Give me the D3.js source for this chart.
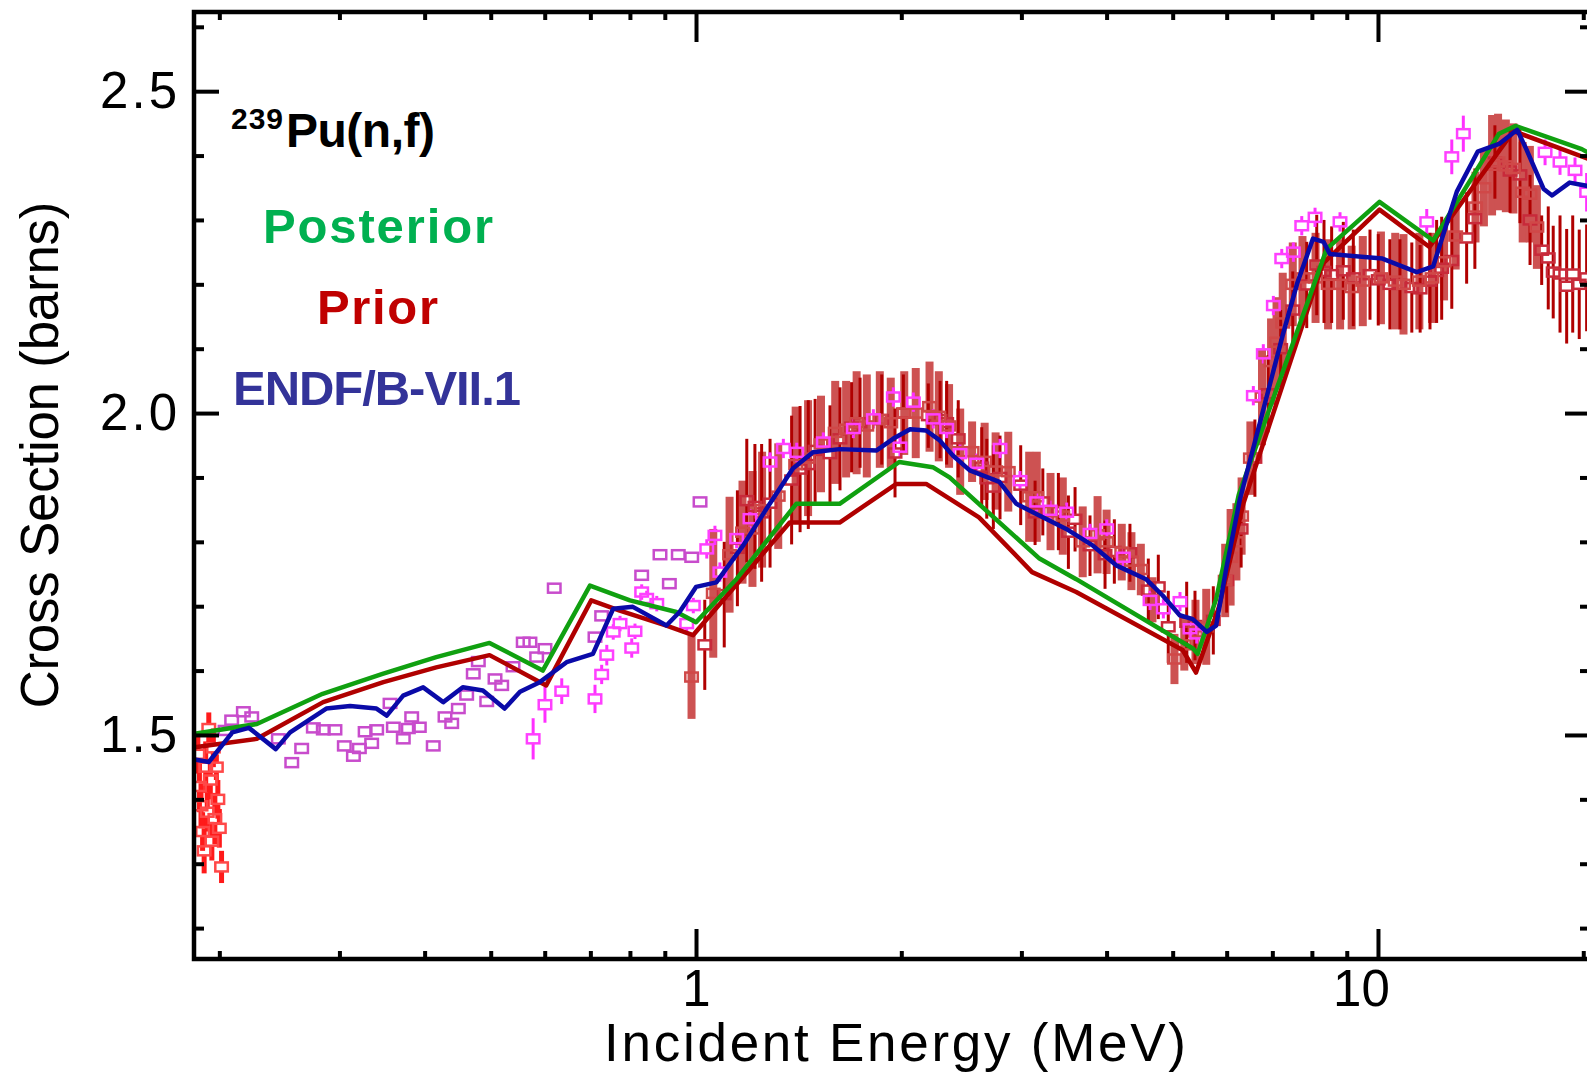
<!DOCTYPE html>
<html lang="en">
<head>
<meta charset="UTF-8">
<title>239Pu(n,f) cross section</title>
<script src="https://d3js.org/d3.v7.min.js"></script>
<style>
    body {
        margin: 0;
        background: #fff;
    }
    svg {
        display: block;
        font-family: "Liberation Sans", Arial, sans-serif;
    }
</style>
</head>
<body>
<div id="chart"></div>
<script>
// ---- evaluated curves: [energy MeV, cross section barns]
const posterior = [
    [0.184, 1.502], [0.227, 1.517], [0.2835, 1.564], [0.347, 1.595], [0.416, 1.621],
    [0.498, 1.643], [0.596, 1.600], [0.699, 1.732], [0.80, 1.709], [0.936, 1.691],
    [1.0, 1.675], [1.146, 1.742], [1.403, 1.859], [1.624, 1.859], [1.986, 1.924],
    [2.224, 1.916], [2.354, 1.90], [3.189, 1.774], [3.61, 1.742], [5.36, 1.634],
    [5.44, 1.626], [5.79, 1.711], [6.25, 1.873], [8.41, 2.255], [10.05, 2.328],
    [12.05, 2.268], [15.05, 2.434], [15.9, 2.446], [19.9, 2.41], [20.46, 2.403]
];

const prior = [
    [0.184, 1.481], [0.227, 1.494], [0.284, 1.551], [0.348, 1.582], [0.416, 1.605],
    [0.498, 1.624], [0.603, 1.577], [0.702, 1.709], [0.773, 1.693], [0.905, 1.670],
    [0.99, 1.655], [1.372, 1.830], [1.624, 1.830], [1.967, 1.890], [2.175, 1.890],
    [2.60, 1.838], [3.11, 1.753], [3.61, 1.722], [5.17, 1.632], [5.41, 1.597],
    [5.85, 1.70], [6.35, 1.86], [8.3, 2.232], [10.05, 2.316], [11.9, 2.258],
    [15.8, 2.438], [20.46, 2.394]
];

const endf = [
    [0.184, 1.462], [0.193, 1.458], [0.209, 1.504], [0.221, 1.511], [0.242, 1.478],
    [0.254, 1.504], [0.287, 1.541], [0.311, 1.545], [0.340, 1.541], [0.352, 1.530],
    [0.372, 1.561], [0.398, 1.574], [0.426, 1.551], [0.455, 1.574], [0.487, 1.569],
    [0.524, 1.541], [0.552, 1.567], [0.590, 1.582], [0.646, 1.613], [0.706, 1.626],
    [0.756, 1.696], [0.808, 1.699], [0.905, 1.670], [0.946, 1.691], [1.0, 1.73],
    [1.071, 1.737], [1.172, 1.794], [1.268, 1.851], [1.387, 1.914], [1.484, 1.939],
    [1.624, 1.944], [1.84, 1.942], [1.945, 1.96], [2.06, 1.975], [2.175, 1.973],
    [2.275, 1.958], [2.38, 1.934], [2.52, 1.911], [2.785, 1.893], [2.95, 1.859],
    [3.225, 1.838], [3.49, 1.82], [3.82, 1.794], [4.14, 1.763], [4.57, 1.742],
    [4.83, 1.717], [5.12, 1.686], [5.35, 1.680], [5.61, 1.66], [5.79, 1.670],
    [5.99, 1.758], [6.27, 1.865], [7.25, 2.121], [7.62, 2.203], [8.03, 2.271],
    [8.32, 2.266], [8.5, 2.247], [10.15, 2.24], [11.4, 2.219], [12.05, 2.228],
    [13.05, 2.344], [14.0, 2.406], [15.05, 2.418], [16.0, 2.44], [16.5, 2.41],
    [17.5, 2.348], [18.0, 2.338], [19.1, 2.358], [20.46, 2.352]
];

// ---- experimental data: [energy MeV, cross section barns, uncertainty]
const expLow = [
    [0.186, 1.47, 0.03], [0.187, 1.42, 0.04], [0.188, 1.39, 0.035], [0.189, 1.35, 0.03],
    [0.190, 1.32, 0.035], [0.191, 1.45, 0.04], [0.192, 1.38, 0.03], [0.193, 1.51, 0.025],
    [0.194, 1.43, 0.03], [0.195, 1.335, 0.03], [0.196, 1.48, 0.03], [0.197, 1.37, 0.04],
    [0.198, 1.45, 0.02], [0.199, 1.40, 0.03], [0.200, 1.355, 0.03], [0.2015, 1.295, 0.025]
];

const expOrchid = [
    [0.2039, 1.507], [0.2085, 1.523], [0.2169, 1.536], [0.2231, 1.528], [0.2441, 1.494],
    [0.2641, 1.479], [0.2554, 1.457], [0.2747, 1.511], [0.2841, 1.508], [0.2955, 1.508],
    [0.3050, 1.483], [0.3145, 1.467], [0.3209, 1.479], [0.3345, 1.487], [0.3272, 1.505],
    [0.3402, 1.508], [0.3559, 1.549], [0.3599, 1.512], [0.3722, 1.494], [0.3786, 1.510],
    [0.3829, 1.528], [0.3929, 1.512], [0.4118, 1.483], [0.4285, 1.528], [0.4383, 1.518],
    [0.4482, 1.541], [0.4610, 1.562], [0.4714, 1.595], [0.4795, 1.614], [0.4933, 1.552],
    [0.5073, 1.587], [0.5189, 1.577], [0.5391, 1.606], [0.5580, 1.644], [0.5708, 1.644],
    [0.5839, 1.621], [0.6005, 1.634], [0.6196, 1.728], [0.7110, 1.652], [0.7272, 1.685],
    [0.8324, 1.748], [0.8855, 1.780], [0.9419, 1.780], [0.9856, 1.776], [0.9139, 1.735],
    [1.0137, 1.862]
];

const expMagenta = [
    [0.577, 1.494, 0.032], [0.6005, 1.547, 0.028], [0.6355, 1.568, 0.02], [0.711, 1.556, 0.022],
    [0.7272, 1.594, 0.015], [0.7399, 1.624, 0.016], [0.7562, 1.660, 0.012], [0.7737, 1.673, 0.012],
    [0.8049, 1.635, 0.015], [0.8138, 1.661, 0.012], [0.8324, 1.722, 0.012], [0.8466, 1.712, 0.012],
    [0.8759, 1.704, 0.012], [0.9691, 1.673, 0.012], [0.9909, 1.701, 0.012], [1.037, 1.789, 0.015],
    [1.066, 1.810, 0.015], [1.084, 1.753, 0.015], [1.147, 1.805, 0.015], [1.200, 1.836, 0.015],
    [1.284, 1.924, 0.015], [1.343, 1.945, 0.015], [1.405, 1.939, 0.015], [1.537, 1.955, 0.015],
    [1.701, 1.976, 0.015], [1.820, 1.991, 0.015], [1.947, 2.025, 0.015], [1.991, 1.947, 0.015],
    [2.083, 2.017, 0.015], [2.228, 1.991, 0.015], [2.331, 1.976, 0.015], [2.438, 1.937, 0.015],
    [2.580, 1.922, 0.015], [2.791, 1.945, 0.015], [2.986, 1.895, 0.015], [3.159, 1.862, 0.015],
    [3.305, 1.849, 0.015], [3.496, 1.846, 0.015], [3.782, 1.813, 0.015], [4.002, 1.820, 0.015],
    [4.232, 1.776, 0.015], [4.632, 1.709, 0.015], [4.845, 1.696, 0.015], [5.125, 1.707, 0.015],
    [5.301, 1.665, 0.015], [5.423, 1.657, 0.015], [6.565, 2.027, 0.015], [6.790, 2.092, 0.015],
    [7.024, 2.167, 0.015], [7.226, 2.240, 0.015], [7.515, 2.250, 0.015], [7.731, 2.291, 0.015],
    [8.086, 2.304, 0.015], [8.797, 2.297, 0.015], [11.79, 2.297, 0.02], [12.83, 2.398, 0.027],
    [13.34, 2.434, 0.028], [17.58, 2.405, 0.02], [18.49, 2.390, 0.02], [19.45, 2.377, 0.02],
    [20.23, 2.343, 0.03]
];

const expWide = [
    [0.985, 1.590, 0.065], [1.06, 1.72, 0.10], [1.12, 1.78, 0.09], [1.17, 1.815, 0.08],
    [1.21, 1.82, 0.09], [1.25, 1.85, 0.09], [1.32, 1.871, 0.082], [1.40, 1.92, 0.09],
    [1.46, 1.93, 0.09], [1.525, 1.952, 0.075], [1.60, 1.97, 0.08], [1.66, 1.975, 0.075],
    [1.72, 1.985, 0.08], [1.78, 1.98, 0.08], [1.86, 1.99, 0.075], [1.93, 1.985, 0.07],
    [2.02, 2.0, 0.065], [2.10, 2.0, 0.07], [2.20, 2.01, 0.07], [2.27, 1.995, 0.07],
    [2.35, 1.98, 0.065], [2.44, 1.94, 0.067], [2.54, 1.94, 0.047], [2.65, 1.925, 0.06],
    [2.75, 1.91, 0.06], [2.87, 1.909, 0.062], [3.08, 1.87, 0.07], [3.16, 1.87, 0.07],
    [3.31, 1.847, 0.06], [3.45, 1.84, 0.06], [3.69, 1.80, 0.055], [3.88, 1.811, 0.06],
    [4.0, 1.80, 0.05], [4.21, 1.784, 0.044], [4.35, 1.77, 0.045], [4.49, 1.757, 0.04],
    [4.67, 1.71, 0.035], [5.03, 1.618, 0.039], [5.2, 1.64, 0.04], [5.4, 1.66, 0.05],
    [5.60, 1.668, 0.059], [5.97, 1.74, 0.057], [6.08, 1.776, 0.075], [6.2, 1.80, 0.06],
    [6.31, 1.84, 0.06], [6.50, 1.93, 0.057], [6.76, 2.025, 0.075], [6.97, 2.08, 0.067],
    [7.1, 2.11, 0.07], [7.25, 2.14, 0.078], [7.50, 2.20, 0.065], [7.75, 2.21, 0.065],
    [8.1, 2.21, 0.07], [8.45, 2.20, 0.07], [8.8, 2.20, 0.07], [9.15, 2.195, 0.065],
    [9.5, 2.205, 0.07], [10.1, 2.21, 0.072], [10.6, 2.205, 0.075], [10.9, 2.20, 0.078],
    [11.5, 2.205, 0.075], [12.0, 2.21, 0.07], [12.5, 2.235, 0.06], [13.0, 2.275, 0.052],
    [13.9, 2.32, 0.055], [14.3, 2.35, 0.06], [14.7, 2.385, 0.078], [15.0, 2.39, 0.075],
    [15.4, 2.384, 0.072], [15.8, 2.38, 0.07], [16.3, 2.343, 0.078], [16.7, 2.34, 0.075],
    [17.1, 2.289, 0.065]
];

const expThin = [
    [1.03, 1.64, 0.07], [1.10, 1.718, 0.082], [1.15, 1.79, 0.09], [1.187, 1.864, 0.096],
    [1.220, 1.855, 0.097], [1.248, 1.845, 0.107], [1.284, 1.86, 0.10], [1.381, 1.896, 0.10],
    [1.421, 1.913, 0.098], [1.461, 1.92, 0.10], [1.495, 1.942, 0.08], [1.572, 1.937, 0.075],
    [1.626, 1.96, 0.08], [1.691, 1.978, 0.07], [1.740, 1.985, 0.07], [1.872, 1.99, 0.07],
    [1.958, 1.938, 0.069], [2.014, 2.0, 0.06], [2.191, 1.996, 0.05], [2.280, 1.99, 0.06],
    [2.331, 1.985, 0.065], [2.424, 1.96, 0.06], [2.624, 1.916, 0.062], [2.669, 1.898, 0.062],
    [2.729, 1.885, 0.065], [2.791, 1.90, 0.065], [2.993, 1.888, 0.062], [3.142, 1.845, 0.05],
    [3.225, 1.862, 0.052], [3.399, 1.847, 0.06], [3.516, 1.815, 0.057], [3.596, 1.835, 0.05],
    [3.782, 1.794, 0.047], [3.979, 1.780, 0.053], [4.106, 1.785, 0.05], [4.328, 1.783, 0.045],
    [4.605, 1.725, 0.049], [4.763, 1.73, 0.05], [4.926, 1.668, 0.056], [5.242, 1.675, 0.063],
    [5.391, 1.67, 0.054], [5.735, 1.678, 0.053], [6.0, 1.74, 0.05], [6.3, 1.82, 0.06],
    [6.6, 1.93, 0.06], [6.9, 2.03, 0.06], [7.2, 2.10, 0.06], [7.5, 2.16, 0.06],
    [7.862, 2.199, 0.067], [8.132, 2.23, 0.078], [8.334, 2.22, 0.08], [8.552, 2.215, 0.075],
    [8.895, 2.221, 0.076], [9.201, 2.21, 0.075], [9.734, 2.215, 0.07], [10.01, 2.207, 0.071],
    [10.41, 2.20, 0.07], [10.77, 2.20, 0.07], [11.21, 2.195, 0.07], [11.53, 2.193, 0.068],
    [11.92, 2.205, 0.075], [12.19, 2.22, 0.08], [12.40, 2.225, 0.08], [12.83, 2.237, 0.075],
    [13.49, 2.272, 0.071], [13.87, 2.302, 0.078], [14.84, 2.39, 0.057], [15.62, 2.376, 0.065],
    [16.15, 2.37, 0.075], [16.71, 2.30, 0.07], [17.38, 2.253, 0.054], [17.77, 2.241, 0.08],
    [18.07, 2.219, 0.072], [18.49, 2.216, 0.091], [18.91, 2.197, 0.089], [19.30, 2.216, 0.091],
    [19.73, 2.20, 0.085], [20.23, 2.21, 0.083]
];

// ---- axes
const xMajor = [1, 10];
const xMinor = [0.2, 0.3, 0.4, 0.5, 0.6, 0.7, 0.8, 0.9, 2, 3, 4, 5, 6, 7, 8, 9, 20];
const yMajor = [1.5, 2.0, 2.5];
const yMinor = [1.2, 1.3, 1.4, 1.6, 1.7, 1.8, 1.9, 2.1, 2.2, 2.3, 2.4, 2.6];

const W = 1587, H = 1074;
const frame = { left: 194, right: 1590, top: 12, bottom: 959 };

const x = d3.scaleLog().domain([0.1836, 20.46]).range([frame.left, frame.right]);
const y = d3.scaleLinear().domain([1.152, 2.623]).range([frame.bottom, frame.top]);

const svg = d3.select("#chart").append("svg")
    .attr("width", W)
    .attr("height", H);

svg.append("clipPath").attr("id", "plot")
    .append("rect")
    .attr("x", frame.left).attr("y", frame.top)
    .attr("width", frame.right - frame.left)
    .attr("height", frame.bottom - frame.top);

const plot = svg.append("g").attr("clip-path", "url(#plot)");

const SQ_W = 12.5, SQ_H = 9;

// error bars broken at the marker, like the original plotting package
function errorBars(g, data, color, width) {
    data.forEach(d => {
        const cx = x(d[0]), cy = y(d[1]);
        const top = y(d[1] + d[2]), bot = y(d[1] - d[2]);
        if (top < cy - SQ_H / 2) {
            g.append("line").attr("x1", cx).attr("x2", cx)
                .attr("y1", top).attr("y2", cy - SQ_H / 2)
                .attr("stroke", color).attr("stroke-width", width);
        }
        if (bot > cy + SQ_H / 2) {
            g.append("line").attr("x1", cx).attr("x2", cx)
                .attr("y1", cy + SQ_H / 2).attr("y2", bot)
                .attr("stroke", color).attr("stroke-width", width);
        }
    });
}

function squares(g, data, color) {
    g.selectAll(null)
        .data(data)
        .enter().append("rect")
        .attr("x", d => x(d[0]) - SQ_W / 2)
        .attr("y", d => y(d[1]) - SQ_H / 2)
        .attr("width", SQ_W)
        .attr("height", SQ_H)
        .attr("fill", "none")
        .attr("stroke", color)
        .attr("stroke-width", 2.5);
}

// wide uncertainty bars
plot.append("g").selectAll("rect")
    .data(expWide)
    .enter().append("rect")
    .attr("x", d => x(d[0]) - 4)
    .attr("y", d => y(d[1] + d[2]))
    .attr("width", 8)
    .attr("height", d => y(d[1] - d[2]) - y(d[1] + d[2]))
    .attr("fill", "#cd5252");

const gThin = plot.append("g");
errorBars(gThin, expThin, "#b00000", 3);

const gLow = plot.append("g");
errorBars(gLow, expLow, "#ff1a1a", 5);

const gMag = plot.append("g");
errorBars(gMag, expMagenta, "#ff30ff", 3);

squares(plot.append("g"), expThin, "#c82a3a");
squares(plot.append("g"), expWide, "#d04848");
squares(plot.append("g"), expMagenta, "#ff40ff");
squares(plot.append("g"), expOrchid, "#c84ccc");
squares(plot.append("g"), expLow, "#ff4848");

// curves
const line = d3.line().x(d => x(d[0])).y(d => y(d[1]));

plot.append("path").datum(prior)
    .attr("d", line).attr("fill", "none")
    .attr("stroke", "#b00000").attr("stroke-width", 4.5).attr("stroke-linejoin", "round");
plot.append("path").datum(posterior)
    .attr("d", line).attr("fill", "none")
    .attr("stroke", "#10a010").attr("stroke-width", 4.5).attr("stroke-linejoin", "round");
plot.append("path").datum(endf)
    .attr("d", line).attr("fill", "none")
    .attr("stroke", "#0a0aa8").attr("stroke-width", 4.5).attr("stroke-linejoin", "round");

// frame + ticks
svg.append("rect")
    .attr("x", frame.left).attr("y", frame.top)
    .attr("width", frame.right - frame.left)
    .attr("height", frame.bottom - frame.top)
    .attr("fill", "none").attr("stroke", "#000").attr("stroke-width", 4.5);

function axisGroup(tx, ty, axis) {
    const g = svg.append("g")
        .attr("transform", `translate(${tx},${ty})`)
        .call(axis)
        .attr("font-size", 51)
        .attr("font-family", "Liberation Sans, Arial, sans-serif");
    g.select(".domain").remove();
    g.selectAll(".tick line").attr("stroke", "#000").attr("stroke-width", 4);
    g.selectAll(".tick text").attr("fill", "#000");
    return g;
}

const left = axisGroup(frame.left, 0,
    d3.axisLeft(y).tickValues(yMajor).tickSize(-25).tickPadding(14).tickFormat(d3.format(".1f")));
left.selectAll(".tick text").attr("letter-spacing", 3);
axisGroup(frame.left, 0, d3.axisLeft(y).tickValues(yMinor).tickSize(-10).tickFormat(""));
axisGroup(frame.right, 0, d3.axisRight(y).tickValues(yMajor).tickSize(-25).tickFormat(""));
axisGroup(frame.right, 0, d3.axisRight(y).tickValues(yMinor).tickSize(-10).tickFormat(""));

const bottom = axisGroup(0, frame.bottom,
    d3.axisBottom(x).tickValues(xMajor).tickSize(-30).tickPadding(11).tickFormat(d3.format("d")));
bottom.selectAll(".tick text").attr("dx", d => d === 10 ? -17 : 0);
axisGroup(0, frame.bottom, d3.axisBottom(x).tickValues(xMinor).tickSize(-8).tickFormat(""));
axisGroup(0, frame.top, d3.axisTop(x).tickValues(xMajor).tickSize(-30).tickFormat(""));
axisGroup(0, frame.top, d3.axisTop(x).tickValues(xMinor).tickSize(-8).tickFormat(""));

// axis titles
svg.append("text")
    .attr("x", 895).attr("y", 1061)
    .attr("text-anchor", "middle")
    .attr("font-size", 53)
    .attr("textLength", 582)
    .text("Incident Energy (MeV)");

svg.append("text")
    .attr("transform", "translate(58,455) rotate(-90)")
    .attr("text-anchor", "middle")
    .attr("font-size", 53)
    .attr("textLength", 507)
    .text("Cross Section (barns)");

// annotations
svg.append("text")
    .attr("x", 231).attr("y", 128.5)
    .attr("font-size", 30).attr("font-weight", "bold")
    .attr("textLength", 52)
    .text("239");
svg.append("text")
    .attr("x", 286).attr("y", 147)
    .attr("font-size", 48).attr("font-weight", "bold")
    .attr("textLength", 149)
    .text("Pu(n,f)");

svg.append("text")
    .attr("x", 378).attr("y", 243)
    .attr("text-anchor", "middle")
    .attr("font-size", 49).attr("font-weight", "bold")
    .attr("fill", "#00b050")
    .attr("textLength", 230)
    .text("Posterior");
svg.append("text")
    .attr("x", 377.5).attr("y", 324)
    .attr("text-anchor", "middle")
    .attr("font-size", 49).attr("font-weight", "bold")
    .attr("fill", "#c00000")
    .attr("textLength", 121)
    .text("Prior");
svg.append("text")
    .attr("x", 377).attr("y", 405)
    .attr("text-anchor", "middle")
    .attr("font-size", 49).attr("font-weight", "bold")
    .attr("fill", "#333399")
    .attr("textLength", 288)
    .text("ENDF/B-VII.1");
</script>
</body>
</html>
